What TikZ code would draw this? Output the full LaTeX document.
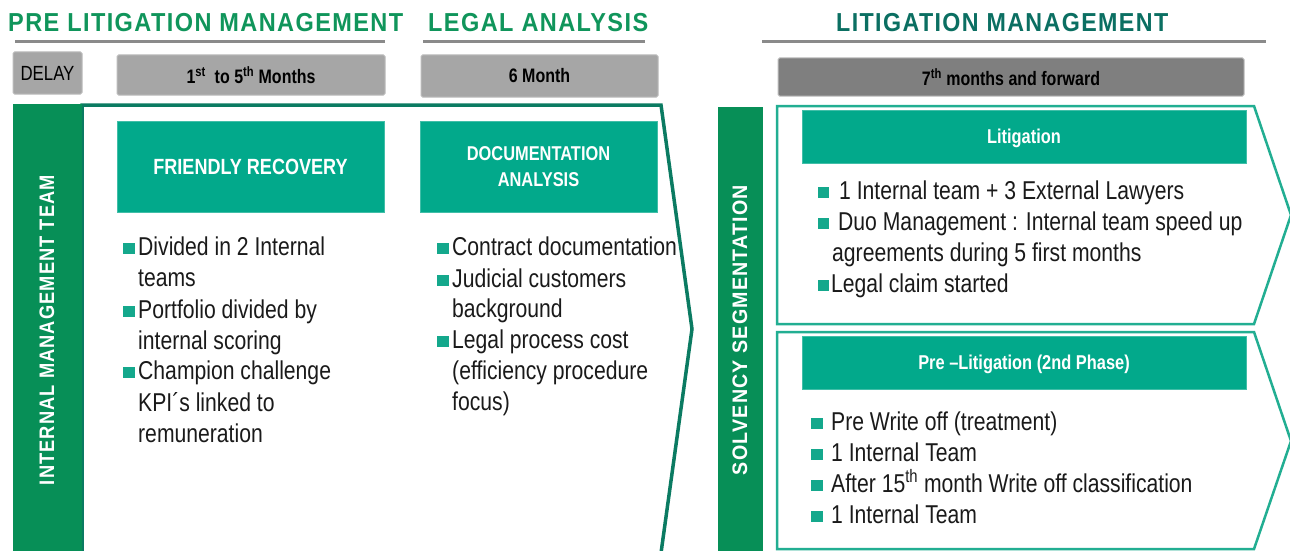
\documentclass[tikz,border=0pt]{standalone}
\usepackage{fontspec}
\usepackage{graphicx}
\setmainfont{Liberation Sans}
\newfontfamily\nar[FakeStretch=0.82]{Liberation Sans}
\newfontfamily\ttlf[LetterSpace=6]{Liberation Sans}
\definecolor{titlegreen}{HTML}{10955B}
\definecolor{titledark}{HTML}{0B6F62}
\definecolor{bargreen}{HTML}{078F57}
\definecolor{chevdark}{HTML}{0B7B62}
\definecolor{chevlight}{HTML}{22AE92}
\definecolor{tealbox}{HTML}{02A98B}
\definecolor{sqc}{HTML}{14A88C}
\definecolor{gfill}{HTML}{A6A6A6}
\definecolor{gborder}{HTML}{BDBDBD}
\definecolor{dfill}{HTML}{7F7F7F}
\definecolor{ulc}{HTML}{8A8A8A}
\definecolor{bodytext}{HTML}{1A1A1A}
\tikzset{
  graybox/.style={draw=gborder, fill=gfill, line width=1pt, rounded corners=1.5pt, inner sep=0pt,
    font=\nar\bfseries\fontsize{19.5}{20}\selectfont, text=black},
  tbox/.style={fill=tealbox, draw=tealbox!75!white, line width=0.8pt, inner sep=0pt, text=white, align=center,
    font=\nar\bfseries\fontsize{20}{26}\selectfont},
  vbar/.style={fill=bargreen, inner sep=0pt},
  vtext/.style={rotate=90, text=white, inner sep=0pt, font=\ttlf\bfseries\fontsize{21}{21}\selectfont},
  sq/.style={fill=sqc, minimum size=11.5pt, inner sep=0pt},
  btxt/.style={anchor=base west, inner sep=0pt, text=bodytext, font=\nar\fontsize{25.8}{31}\selectfont},
  ttl/.style={anchor=base west, inner sep=0pt, font=\ttlf\bfseries\fontsize{26}{26}\selectfont},
  uline/.style={draw=ulc, line width=3pt},
  chevL/.style={draw=chevdark, line width=3.5pt, line join=miter},
  chevR/.style={draw=chevlight, line width=2.5pt, line join=miter}
}
\begin{document}
\begin{tikzpicture}[x=1pt,y=-1pt]
\useasboundingbox (0,0) rectangle (1290,551);
\fill[white] (0,0) rectangle (1290,551);

% titles
\node[ttl, text=titlegreen] (t1) at (8,32) {\resizebox{395pt}{\height}{PRE LITIGATION MANAGEMENT}};
\node[ttl, text=titlegreen] (t2) at (428,32) {\resizebox{220pt}{\height}{LEGAL ANALYSIS}};
\node[ttl, text=titledark] (t3) at (836,32) {\resizebox{332pt}{\height}{LITIGATION MANAGEMENT}};
\draw[uline] (15,42) -- (385,42);
\draw[uline] (423,42) -- (645,42);
\draw[uline] (762,42) -- (1266,42);

% gray period boxes
\node[graybox, minimum width=69pt, minimum height=42pt, font=\nar\fontsize{20.5}{21}\selectfont] (delay) at (47.5,73) {DELAY};
\node[graybox, minimum width=268pt, minimum height=40pt] (m15) at (251,75) {1\textsuperscript{st}\ \ to 5\textsuperscript{th} Months};
\node[graybox, minimum width=237pt, minimum height=42pt] (m6) at (539.5,76) {6 Month};
\node[graybox, fill=dfill, minimum width=466pt, minimum height=38pt] (m7) at (1011,77) {7\textsuperscript{th} months and forward};

% chevron outlines
\draw[chevL] (82,553) -- (82,105) -- (661,105) -- (692,329) -- (661,553);
\draw[chevR] (777,106) -- (1254,106) -- (1291,215) -- (1254,324) -- (777,324) -- cycle;
\draw[chevR] (777,332) -- (1254,332) -- (1291,441) -- (1254,549) -- (777,549) -- cycle;

% vertical bars
\node[vbar, minimum width=69pt, minimum height=448pt] (bar1) at (47.5,328) {};
\node[vtext] (bar1t) at (47,330) {\resizebox{310pt}{\height}{INTERNAL MANAGEMENT TEAM}};
\node[vbar, minimum width=45pt, minimum height=445pt] (bar2) at (740.5,329.5) {};
\node[vtext] (bar2t) at (740,330) {\resizebox{290pt}{\height}{SOLVENCY SEGMENTATION}};

% teal heading boxes
\node[tbox, minimum width=267pt, minimum height=91pt, font=\nar\bfseries\fontsize{22}{26}\selectfont] (fr) at (250.5,166.5) {FRIENDLY RECOVERY};
\node[tbox, minimum width=237pt, minimum height=91pt] (doc) at (538.5,166.5) {DOCUMENTATION\\ANALYSIS};
\node[tbox, minimum width=444pt, minimum height=53pt, text depth=0pt] (lit) at (1024,136.5) {Litigation};
\node[tbox, minimum width=444pt, minimum height=53pt, text depth=0pt] (pre) at (1024,362.5) {Pre \textendash Litigation (2nd Phase)};

% left column bullets
\node[sq] (s11) at (129,248.5) {};
\node[btxt] (l11) at (138,255) {Divided in 2 Internal};
\node[btxt] (l12) at (138,286) {teams};
\node[sq] (s12) at (129,311.5) {};
\node[btxt] (l13) at (138,318) {Portfolio divided by};
\node[btxt] (l14) at (138,349) {internal scoring};
\node[sq] (s13) at (129,372.5) {};
\node[btxt] (l15) at (138,379) {Champion challenge};
\node[btxt] (l16) at (138,411) {KPI´s linked to};
\node[btxt] (l17) at (138,442) {remuneration};

% middle column bullets
\node[sq] (s21) at (443,248.5) {};
\node[btxt] (l21) at (452,255) {Contract documentation};
\node[sq] (s22) at (443,280.5) {};
\node[btxt] (l22) at (452,287) {Judicial customers};
\node[btxt] (l23) at (452,317) {background};
\node[sq] (s23) at (443,341.5) {};
\node[btxt] (l24) at (452,348) {Legal process cost};
\node[btxt] (l25) at (452,379) {(efficiency procedure};
\node[btxt] (l26) at (452,410) {focus)};

% upper right bullets
\node[sq] (s31) at (823.5,192.5) {};
\node[btxt] (l31) at (839,199) {1 Internal team + 3 External Lawyers};
\node[sq] (s32) at (823.5,223.5) {};
\node[btxt] (l32) at (838,230) {Duo Management : Internal team speed up};
\node[btxt] (l33) at (832,261) {agreements during 5 first months};
\node[sq] (s33) at (823.5,285.5) {};
\node[btxt] (l34) at (831,292) {Legal claim started};

% lower right bullets
\node[sq] (s41) at (817,423.5) {};
\node[btxt] (l41) at (831,430) {Pre Write off (treatment)};
\node[sq] (s42) at (817,454.5) {};
\node[btxt] (l42) at (831,461) {1 Internal Team};
\node[sq] (s43) at (817,485.5) {};
\node[btxt] (l43) at (831,492) {After 15\textsuperscript{th} month Write off classification};
\node[sq] (s44) at (817,516.5) {};
\node[btxt] (l44) at (831,523) {1 Internal Team};
\end{tikzpicture}
\end{document}
